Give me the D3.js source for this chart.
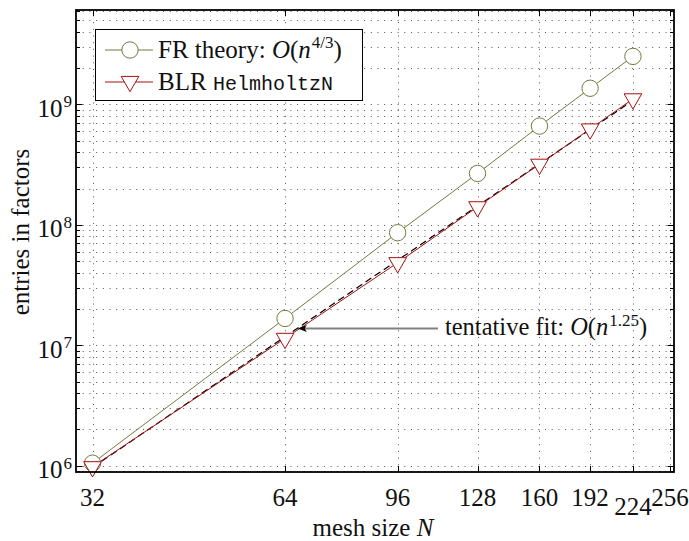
<!DOCTYPE html>
<html><head><meta charset="utf-8">
<script src="https://cdn.jsdelivr.net/npm/d3@7"></script>
<style>body{margin:0;background:#fff}</style>
</head><body>
<svg id="c" width="689" height="541"></svg>
<script>
// ---- data ----
const meshSizes = [32, 64, 96, 128, 160, 192, 224];
const frTheory = [1.05e6, 1.67e7, 8.6e7, 2.67e8, 6.6e8, 1.36e9, 2.5e9];
const blrHelmholtz = [0.98e6, 1.14e7, 4.84e7, 1.41e8, 3.18e8, 6.24e8, 1.11e9];
const fitN = [32, 224];
const fitValues = [0.968e6, 1.077e9];
const xTicks = [32, 64, 96, 128, 160, 192, 224, 256];
const xTickLabels = ["32", "64", "96", "128", "160", "192", "224", "256"];
const yDecades = [1e6, 1e7, 1e8, 1e9];
const yExponents = ["6", "7", "8", "9"];
const annotArrow = {tipN: 67, tailN: 111, value: 1.38e7};
const xDomain = [30.15, 259.7];
const yDomain = [8.87e5, 6.07e9];

// ---- layout ----
const L = 76, R = 674, T = 10, B = 472;
const svg = d3.select("#c");
const serif = "'Liberation Serif', 'Times New Roman', serif";
const mono = "'Liberation Mono', 'DejaVu Sans Mono', monospace";
const olive = "#737a40", red = "#a80f0f";

const x = d3.scaleLog().domain(xDomain).range([L, R]);
const y = d3.scaleLog().domain(yDomain).range([B, T]);

// minor values
const yMinor = [];
[1e5, 1e6, 1e7, 1e8, 1e9].forEach(d => { for (let k = 2; k <= 9; k++) { const v = k * d; if (v > yDomain[0] && v < yDomain[1]) yMinor.push(v); } });

// grid
const grid = svg.append("g").attr("stroke", "#555").attr("stroke-width", 1).attr("stroke-dasharray", "1,5.7").attr("fill", "none");
yMinor.concat(yDecades).forEach(v => {
  grid.append("line").attr("x1", L).attr("x2", R).attr("y1", Math.round(y(v)) + 0.5).attr("y2", Math.round(y(v)) + 0.5);
});
xTicks.forEach(v => {
  grid.append("line").attr("x1", Math.round(x(v)) + 0.5).attr("x2", Math.round(x(v)) + 0.5).attr("y1", B).attr("y2", T);
});

// ticks (inside, both sides)
const tk = svg.append("g").attr("stroke", "#000").attr("stroke-width", 1);
yDecades.forEach(v => {
  const yy = Math.round(y(v)) + 0.5;
  tk.append("line").attr("x1", L).attr("x2", L + 6.5).attr("y1", yy).attr("y2", yy);
  tk.append("line").attr("x1", R).attr("x2", R - 6.5).attr("y1", yy).attr("y2", yy);
});
yMinor.forEach(v => {
  const yy = Math.round(y(v)) + 0.5;
  tk.append("line").attr("x1", L).attr("x2", L + 4).attr("y1", yy).attr("y2", yy);
  tk.append("line").attr("x1", R).attr("x2", R - 4).attr("y1", yy).attr("y2", yy);
});
xTicks.forEach(v => {
  const xx = Math.round(x(v)) + 0.5;
  tk.append("line").attr("x1", xx).attr("x2", xx).attr("y1", B).attr("y2", B - 6);
  tk.append("line").attr("x1", xx).attr("x2", xx).attr("y1", T).attr("y2", T + 6);
});

// fit line (dashed)
const line = d3.line().x(d => x(d[0])).y(d => y(d[1]));
svg.append("path").attr("d", line(fitN.map((n, i) => [n, fitValues[i]])))
  .attr("fill", "none").attr("stroke", "#000").attr("stroke-width", 1.2).attr("stroke-dasharray", "7,4");

// series lines
const frPts = meshSizes.map((n, i) => [n, frTheory[i]]);
const blrPts = meshSizes.map((n, i) => [n, blrHelmholtz[i]]);
svg.append("path").attr("d", line(frPts)).attr("fill", "none").attr("stroke", olive).attr("stroke-width", 1);
svg.append("path").attr("d", line(blrPts)).attr("fill", "none").attr("stroke", red).attr("stroke-width", 1);

// markers
function circleMarker(g, cx, cy) {
  g.append("circle").attr("cx", cx).attr("cy", cy).attr("r", 8.2).attr("fill", "#fff").attr("stroke", olive).attr("stroke-width", 1);
}
function triMarker(g, cx, cy) {
  const r = 10.2, h = r * Math.sqrt(3) / 2;
  g.append("path").attr("d", `M${cx - h},${cy - r / 2}L${cx + h},${cy - r / 2}L${cx},${cy + r}Z`)
    .attr("fill", "#fff").attr("stroke", red).attr("stroke-width", 1);
}
frPts.forEach(p => circleMarker(svg, x(p[0]), y(p[1])));
blrPts.forEach(p => triMarker(svg, x(p[0]), y(p[1])));

// frame
svg.append("rect").attr("x", L).attr("y", T).attr("width", R - L).attr("height", B - T)
  .attr("fill", "none").attr("stroke", "#000").attr("stroke-width", 1.8);

// y tick labels
yDecades.forEach((v, i) => {
  const t = svg.append("text").attr("x", 72).attr("y", y(v) + 12.5).attr("text-anchor", "end")
    .attr("font-family", serif).attr("font-size", 25).attr("fill", "#111");
  t.append("tspan").text("10");
  t.append("tspan").attr("dy", -9.5).attr("dx", 1).attr("font-size", 17).text(yExponents[i]);
});

// x tick labels
xTicks.forEach((v, i) => {
  svg.append("text").attr("x", x(v)).attr("y", 505.5 + (v === 224 ? 9 : 0)).attr("text-anchor", "middle")
    .attr("font-family", serif).attr("font-size", 25).attr("fill", "#111").text(xTickLabels[i]);
});

// axis labels
const xl = svg.append("text").attr("x", 373).attr("y", 536).attr("text-anchor", "middle")
  .attr("font-family", serif).attr("font-size", 25).attr("fill", "#111");
xl.append("tspan").text("mesh size ");
xl.append("tspan").attr("font-style", "italic").text("N");

svg.append("text").attr("transform", "translate(28.5,232) rotate(-90)").attr("text-anchor", "middle")
  .attr("font-family", serif).attr("font-size", 25).attr("fill", "#111").text("entries in factors");

// annotation arrow
const ay = y(annotArrow.value);
svg.append("line").attr("x1", x(annotArrow.tailN)).attr("x2", x(annotArrow.tipN) + 6).attr("y1", ay).attr("y2", ay)
  .attr("stroke", "#808080").attr("stroke-width", 2);
const tx = x(annotArrow.tipN);
svg.append("path").attr("d", `M${tx},${ay}L${tx + 9},${ay - 3.5}L${tx + 7},${ay}L${tx + 9},${ay + 3.5}Z`).attr("fill", "#000");

const at = svg.append("text").attr("x", x(annotArrow.tailN) + 7).attr("y", ay + 7)
  .attr("font-family", serif).attr("font-size", 24.5).attr("fill", "#111");
at.append("tspan").text("tentative fit: ");
at.append("tspan").attr("font-style", "italic").text("O");
at.append("tspan").text("(");
at.append("tspan").attr("font-style", "italic").text("n");
at.append("tspan").attr("dy", -9.5).attr("dx", 1).attr("font-size", 17).text("1.25");
at.append("tspan").attr("dy", 9.5).text(")");

// legend
const lg = svg.append("g");
lg.append("rect").attr("x", 95.5).attr("y", 29.5).attr("width", 267).attr("height", 71)
  .attr("fill", "#fff").attr("stroke", "#000").attr("stroke-width", 1);
lg.append("line").attr("x1", 105).attr("x2", 153).attr("y1", 50).attr("y2", 50).attr("stroke", olive).attr("stroke-width", 1);
circleMarker(lg, 130, 50);
lg.append("line").attr("x1", 105).attr("x2", 153).attr("y1", 82).attr("y2", 82).attr("stroke", red).attr("stroke-width", 1);
triMarker(lg, 130, 81.5);
const l1 = lg.append("text").attr("x", 158).attr("y", 57.5).attr("font-family", serif).attr("font-size", 25).attr("fill", "#111");
l1.append("tspan").text("FR theory: ");
l1.append("tspan").attr("font-style", "italic").text("O");
l1.append("tspan").text("(");
l1.append("tspan").attr("font-style", "italic").text("n");
l1.append("tspan").attr("dy", -9.5).attr("dx", 1).attr("font-size", 17).text("4/3");
l1.append("tspan").attr("dy", 9.5).text(")");
const l2 = lg.append("text").attr("x", 158).attr("y", 90).attr("font-family", serif).attr("font-size", 25).attr("fill", "#111");
l2.append("tspan").text("BLR ");
l2.append("tspan").attr("font-family", mono).attr("font-size", 20).text("HelmholtzN");
</script>
</body></html>
